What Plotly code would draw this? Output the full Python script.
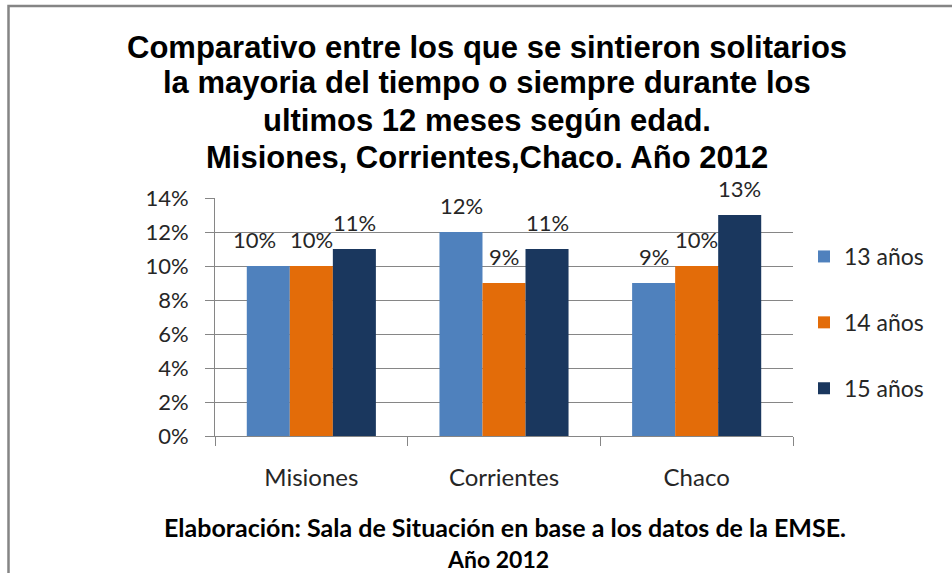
import plotly.graph_objects as go

categories = ["Misiones", "Corrientes", "Chaco"]
series_names = ["13 años", "14 años", "15 años"]
values_13 = [10, 12, 9]
values_14 = [10, 9, 10]
values_15 = [11, 11, 13]
y_ticks = [0, 2, 4, 6, 8, 10, 12, 14]
y_tick_labels = [f"{v}%" for v in y_ticks]
title_lines = [
    "Comparativo entre los que se sintieron solitarios",
    "la mayoria del tiempo o siempre durante los",
    "ultimos 12 meses según edad.",
    "Misiones, Corrientes,Chaco. Año 2012",
]
footer_lines = [
    "Elaboración: Sala de Situación en base a los datos de la EMSE.",
    "Año 2012",
]

colors = ["#4F81BD", "#E36C09", "#1A375E"]
all_values = [values_13, values_14, values_15]

W, H = 952, 573
L, T = 215, 198
R = W - 793
B = H - 436
pw, ph = W - L - R, H - T - B


def px(xw):
    return (xw - L) / pw


def py(yw):
    return (H - B - yw) / ph


FONT = "Lato, Open Sans, sans-serif"
TXT = "#262626"

fig = go.Figure()
for name, vals, col in zip(series_names, all_values, colors):
    fig.add_trace(go.Bar(
        x=categories, y=vals, name=name, marker=dict(color=col, line=dict(width=0)),
        legendgroup=name,
    ))

# data labels
label_font = dict(family=FONT, size=22, color=TXT)
offsets = [-43, 0, 43]
for i, vals in enumerate(all_values):
    for j, (cat, v) in enumerate(zip(categories, vals)):
        shift = offsets[i]
        if i + 1 < len(all_values) and all_values[i + 1][j] == v:
            shift -= 14
        fig.add_annotation(x=cat, y=v, text=f"{v}%", showarrow=False,
                           xshift=shift, yshift=11, yanchor="bottom",
                           font=label_font)

# title, one annotation per line
for k, (line, yw) in enumerate(zip(title_lines, [47, 83, 120, 157])):
    fig.add_annotation(xref="paper", yref="paper", x=px(487), y=py(yw),
                       text=f"<b>{line}</b>", showarrow=False,
                       xanchor="center", yanchor="middle",
                       font=dict(family="Liberation Sans, Arial, sans-serif", size=31,
                                 color="#000000"))

fig.add_annotation(xref="paper", yref="paper", x=px(505), y=py(527),
                   text=f"<b>{footer_lines[0]}</b>",
                   showarrow=False, xanchor="center", yanchor="middle",
                   font=dict(family=FONT, size=25, color="#000000"))
fig.add_annotation(xref="paper", yref="paper", x=px(498), y=py(559),
                   text=f"<b>{footer_lines[1]}</b>",
                   showarrow=False, xanchor="center", yanchor="middle",
                   font=dict(family=FONT, size=23, color="#000000"))

# outer border (right and bottom edges lie outside the picture)
fig.add_shape(type="rect", xref="paper", yref="paper",
              x0=px(8.5), x1=px(1000),
              y0=py(640), y1=py(6),
              line=dict(color="#858585", width=2.5), fillcolor="rgba(0,0,0,0)", layer="below")

fig.update_layout(
    width=W, height=H,
    margin=dict(l=L, r=R, t=T, b=B, autoexpand=False),
    paper_bgcolor="white", plot_bgcolor="white",
    barmode="group", bargap=0.33, bargroupgap=0,
    showlegend=True,
    legend=dict(x=px(804), y=py(235), xanchor="left", yanchor="top",
                font=dict(family=FONT, size=23, color=TXT),
                tracegroupgap=33, bgcolor="rgba(0,0,0,0)"),
    xaxis=dict(
        showline=True, linecolor="#868686", linewidth=1,
        ticks="outside", tickson="boundaries", ticklen=9, tickcolor="#868686",
        ticklabelstandoff=20,
        tickfont=dict(family=FONT, size=24, color=TXT),
        showgrid=False,
    ),
    yaxis=dict(
        range=[0, 14], tickvals=y_ticks, ticktext=y_tick_labels,
        showline=True, linecolor="#868686", linewidth=1,
        ticks="outside", ticklen=9, tickcolor="#868686",
        ticklabelstandoff=12,
        showgrid=True, gridcolor="#868686", gridwidth=1, zeroline=False,
        tickfont=dict(family=FONT, size=22, color=TXT),
    ),
)

fig.write_html("out.html", config={"displayModeBar": False},
               post_script="document.body.style.margin='0';")
